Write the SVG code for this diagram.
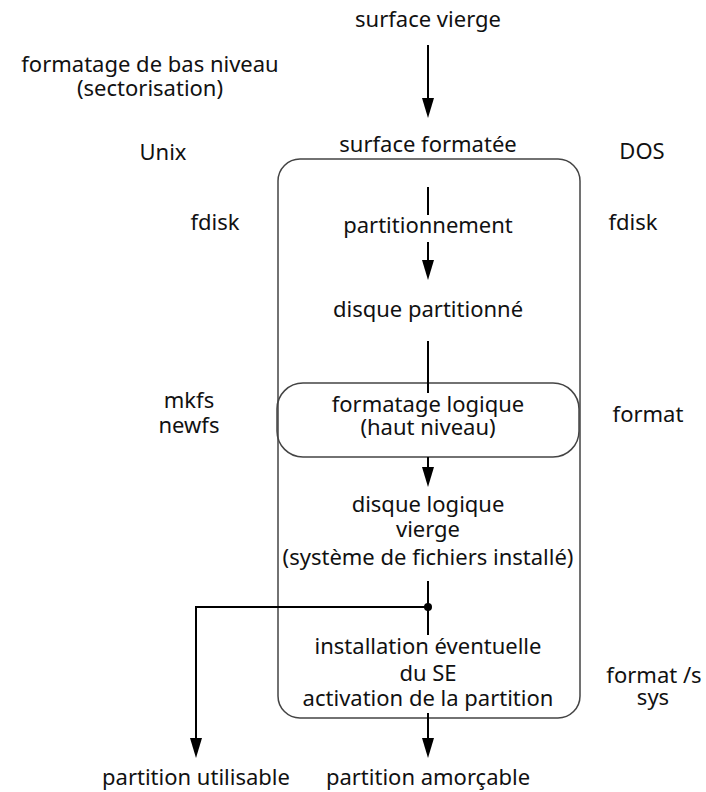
<svg xmlns="http://www.w3.org/2000/svg" width="706" height="792" viewBox="0 0 706 792">
<style>
text{font-family:"Noto Sans","DejaVu Sans",sans-serif;font-size:22px;fill:#111;text-anchor:middle}
.box{fill:none;stroke:#444;stroke-width:1.5}
.ln{fill:none;stroke:#000;stroke-width:2}
.ah{fill:#000}
</style>
<rect width="706" height="792" fill="#fff"/>
<g id="big-box"><rect class="box" x="278" y="159" width="302" height="559" rx="22"/></g>
<g id="logic-box"><rect class="box" x="277" y="383" width="302" height="74" rx="26"/></g>
<g id="connectors">
<path class="ln" d="M428,45 V100"/><path class="ah" d="M422,98 L434,98 L428,118 Z"/>
<path class="ln" d="M428,187 V215"/>
<path class="ln" d="M428,242 V262"/><path class="ah" d="M422,260 L434,260 L428,280 Z"/>
<path class="ln" d="M428,341 V393"/>
<path class="ln" d="M428,457 V470"/><path class="ah" d="M422,467 L434,467 L428,487 Z"/>
<path class="ln" d="M428,581 V635"/>
<path class="ln" d="M428,607 H196 V740"/><path class="ah" d="M190,738 L202,738 L196,758 Z"/>
<circle class="ah" cx="428" cy="607" r="4"/>
<path class="ln" d="M428,713 V740"/><path class="ah" d="M422,738 L434,738 L428,758 Z"/>
</g>
<g id="surface-vierge"><text x="428" y="27">surface vierge</text></g>
<g id="bas-niveau"><text x="150" y="72">formatage de bas niveau</text><text x="150" y="96">(sectorisation)</text></g>
<g id="surface-formatee"><text x="428" y="152">surface formatée</text></g>
<g id="unix"><text x="163" y="160">Unix</text></g>
<g id="dos"><text x="642" y="159">DOS</text></g>
<g id="fdisk-l"><text x="215" y="230">fdisk</text></g>
<g id="fdisk-r"><text x="633" y="230">fdisk</text></g>
<g id="partitionnement"><text x="428" y="233">partitionnement</text></g>
<g id="disque-partitionne"><text x="428" y="317">disque partitionné</text></g>
<g id="mkfs"><text x="189" y="408">mkfs</text><text x="189" y="433">newfs</text></g>
<g id="format"><text x="648" y="422">format</text></g>
<g id="formatage-logique"><text x="428" y="412">formatage logique</text><text x="428" y="435">(haut niveau)</text></g>
<g id="disque-logique"><text x="428" y="512">disque logique</text><text x="428" y="537">vierge</text><text x="428" y="565">(système de fichiers installé)</text></g>
<g id="installation"><text x="428" y="654">installation éventuelle</text><text x="428" y="681">du SE</text><text x="428" y="706">activation de la partition</text></g>
<g id="format-s"><text x="654" y="683">format /s</text><text x="653" y="705">sys</text></g>
<g id="partition-utilisable"><text x="196" y="785">partition utilisable</text></g>
<g id="partition-amorcable"><text x="428" y="785">partition amorçable</text></g>
</svg>
